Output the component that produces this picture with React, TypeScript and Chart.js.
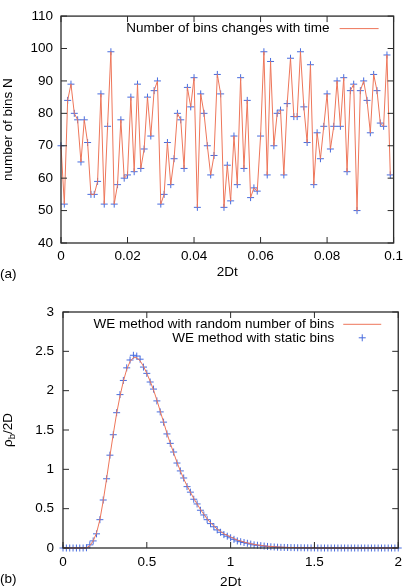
import React, { useEffect, useRef } from "react";
import { Chart, registerables } from "chart.js";

Chart.register(...registerables);

const FONT_FAMILY = '"Liberation Sans", Arial, Helvetica, sans-serif';
const FONT_SIZE = 13.5;
const TEXT_COLOR = "#000";
const LINE_COLOR = "rgb(238, 118, 90)";
const POINT_COLOR = "rgb(72, 108, 222)";
const FRAME_COLOR = "#2b2b2b";

// ---------- panel (a) ----------
const A_TIME_STEP = 0.001;
const A_LABEL = "Number of bins changes with time";
const A_BINS = [
  70, 52, 84, 89, 80, 78, 65, 78, 71, 55,
  55, 59, 86, 52, 76, 99, 52, 58, 78, 60,
  61, 85, 62, 89, 63, 69, 85, 73, 87, 90,
  52, 55, 71, 58, 66, 80, 78, 63, 88, 82,
  91, 51, 86, 80, 70, 61, 67, 92, 86, 51,
  64, 53, 73, 58, 91, 63, 84, 54, 57, 56,
  73, 99, 61, 96, 70, 80, 81, 61, 83, 97,
  79, 79, 99, 82, 71, 95, 58, 74, 66, 76,
  86, 69, 76, 90, 76, 91, 62, 87, 89, 50,
  87, 90, 84, 74, 92, 87, 77, 76, 98, 61,
];
const A_X_MIN = 0, A_X_MAX = 0.1, A_X_STEP = 0.02;
const A_Y_MIN = 40, A_Y_MAX = 110, A_Y_STEP = 10;
const A_X_TITLE = "2Dt";
const A_Y_TITLE = "number of bins N";

// ---------- panel (b) ----------
const B_TIME_STEP = 0.02;
const B_RANDOM_LABEL = "WE method with random number of bins";
const B_STATIC_LABEL = "WE method with static bins";
const B_RANDOM = [
  0, 0, 0, 0, 0, 0, 0, 0.002,
  0.03, 0.09, 0.19, 0.36, 0.60, 0.88, 1.17, 1.45, 1.71, 1.93,
  2.12, 2.27, 2.37, 2.42, 2.42, 2.38, 2.31, 2.22, 2.12, 2.01,
  1.88, 1.74, 1.60, 1.46, 1.33, 1.21, 1.09, 0.98, 0.88, 0.79,
  0.71, 0.63, 0.56, 0.49, 0.43, 0.37, 0.32, 0.28, 0.24, 0.21,
  0.18, 0.16, 0.14, 0.12, 0.10, 0.09, 0.075, 0.065, 0.055, 0.046,
  0.039, 0.033, 0.027, 0.023, 0.019, 0.016, 0.013, 0.011, 0.009, 0.007,
  0.006, 0.005, 0.004, 0.003, 0.003, 0.002, 0.002, 0.001,
  0, 0, 0, 0, 0, 0, 0, 0, 0, 0, 0, 0, 0, 0, 0, 0, 0, 0, 0, 0, 0, 0, 0, 0, 0,
];
const B_STATIC = [
  0, 0, 0, 0, 0, 0, 0, 0.003,
  0.04, 0.09, 0.18, 0.36, 0.61, 0.88, 1.18, 1.44, 1.72, 1.95,
  2.13, 2.29, 2.39, 2.45, 2.44, 2.40, 2.30, 2.22, 2.11, 2.02,
  1.87, 1.73, 1.60, 1.45, 1.33, 1.22, 1.08, 0.98, 0.89, 0.78,
  0.71, 0.62, 0.56, 0.48, 0.42, 0.36, 0.31, 0.27, 0.23, 0.20,
  0.17, 0.15, 0.13, 0.11, 0.09, 0.08, 0.07, 0.06, 0.05, 0.04,
  0.035, 0.03, 0.025, 0.02, 0.016, 0.013, 0.01, 0.008, 0.007, 0.006,
  0.005, 0.004, 0.003, 0.003, 0.002, 0.002, 0.001, 0.001,
  0, 0, 0, 0, 0, 0, 0, 0, 0, 0, 0, 0, 0, 0, 0, 0, 0, 0, 0, 0, 0, 0, 0, 0, 0,
];
const B_X_MIN = 0, B_X_MAX = 2, B_X_STEP = 0.5;
const B_Y_MIN = 0, B_Y_MAX = 3, B_Y_STEP = 0.5;
const B_X_TITLE = "2Dt";

const font = (size = FONT_SIZE) => ({ family: FONT_FAMILY, size });
const fmt = (v: number | string) => String(+Number(v).toFixed(6));

function toPoints(values: number[], step: number) {
  return values.map((v, i) => ({ x: i * step, y: v }));
}

type LegendItem = { datasetIndex: number; kind: "line" | "point" };
type DecorCfg = {
  legend: LegendItem[];
  legendTop: number;
  legendGap: number;
  textRight: number;
  sampleFrom: number;
  sampleTo: number;
  tag: string;
  tagX: number;
  tagY: number;
  yTitleParts?: { text: string; size: number; dy: number }[];
  yTitleX?: number;
};

function decorPlugin(cfg: DecorCfg) {
  return {
    id: "gnuplotDecor",
    afterDraw(chart: any) {
      const { ctx, chartArea: a } = chart;
      const xs = chart.scales.x;
      const ys = chart.scales.y;
      const L = 6;
      ctx.save();
      ctx.strokeStyle = FRAME_COLOR;
      ctx.lineWidth = 1;
      ctx.beginPath();
      xs.ticks.forEach((t: any) => {
        const p = xs.getPixelForValue(t.value);
        ctx.moveTo(p, a.bottom);
        ctx.lineTo(p, a.bottom - L);
        ctx.moveTo(p, a.top);
        ctx.lineTo(p, a.top + L);
      });
      ys.ticks.forEach((t: any) => {
        const p = ys.getPixelForValue(t.value);
        ctx.moveTo(a.left, p);
        ctx.lineTo(a.left + L, p);
        ctx.moveTo(a.right, p);
        ctx.lineTo(a.right - L, p);
      });
      ctx.stroke();
      ctx.lineWidth = 1.3;
      ctx.strokeRect(a.left, a.top, a.right - a.left, a.bottom - a.top);

      // legend
      ctx.font = `${FONT_SIZE}px ${FONT_FAMILY}`;
      ctx.fillStyle = TEXT_COLOR;
      ctx.textAlign = "right";
      ctx.textBaseline = "middle";
      cfg.legend.forEach((item, k) => {
        const ds = chart.data.datasets[item.datasetIndex];
        const y = a.top + cfg.legendTop + k * cfg.legendGap;
        ctx.fillText(ds.label, a.right - cfg.textRight, y);
        ctx.strokeStyle = ds.borderColor;
        ctx.lineWidth = 1;
        ctx.beginPath();
        if (item.kind === "line") {
          ctx.moveTo(a.right - cfg.sampleFrom, y);
          ctx.lineTo(a.right - cfg.sampleTo, y);
        } else {
          const cx = a.right - (cfg.sampleFrom + cfg.sampleTo) / 2;
          ctx.moveTo(cx - 3.5, y);
          ctx.lineTo(cx + 3.5, y);
          ctx.moveTo(cx, y - 3.5);
          ctx.lineTo(cx, y + 3.5);
        }
        ctx.stroke();
      });

      // panel tag
      ctx.textAlign = "left";
      ctx.fillStyle = TEXT_COLOR;
      ctx.fillText(cfg.tag, cfg.tagX, cfg.tagY);

      // custom y title with subscript
      if (cfg.yTitleParts) {
        const parts = cfg.yTitleParts;
        const widths = parts.map((p) => {
          ctx.font = `${p.size}px ${FONT_FAMILY}`;
          return ctx.measureText(p.text).width;
        });
        const total = widths.reduce((s, w) => s + w, 0);
        ctx.translate(cfg.yTitleX ?? 8, (a.top + a.bottom) / 2);
        ctx.rotate(-Math.PI / 2);
        let x = -total / 2;
        parts.forEach((p, i) => {
          ctx.font = `${p.size}px ${FONT_FAMILY}`;
          ctx.fillText(p.text, x, p.dy);
          x += widths[i];
        });
      }
      ctx.restore();
    },
  };
}

type Cfg = {
  datasets: any[];
  xMin: number; xMax: number; xStep: number;
  yMin: number; yMax: number; yStep: number;
  xTitle: string; yTitle?: string;
  padding: { left: number; right: number; top: number; bottom: number };
  yWidth: number; xHeight: number;
  xTickPad: number; yTickPad: number; xTitlePad: number;
  decor: DecorCfg;
};

function makeConfig(c: Cfg): any {
  return {
    type: "line",
    data: { datasets: c.datasets },
    options: {
      animation: false,
      responsive: false,
      devicePixelRatio: 1,
      layout: { padding: c.padding },
      plugins: { legend: { display: false }, tooltip: { enabled: false } },
      scales: {
        x: {
          type: "linear",
          min: c.xMin,
          max: c.xMax,
          ticks: { stepSize: c.xStep, padding: c.xTickPad, font: font(), color: TEXT_COLOR, maxRotation: 0, autoSkip: false, callback: fmt },
          grid: { display: false, drawTicks: false },
          border: { display: false },
          title: { display: true, text: c.xTitle, font: font(), color: TEXT_COLOR, padding: { top: 0, bottom: c.xTitlePad } },
          afterFit: (s: any) => { s.height = c.xHeight; },
        },
        y: {
          type: "linear",
          min: c.yMin,
          max: c.yMax,
          ticks: { stepSize: c.yStep, padding: c.yTickPad, font: font(), color: TEXT_COLOR, callback: fmt },
          grid: { display: false, drawTicks: false },
          border: { display: false },
          title: { display: !!c.yTitle, text: c.yTitle || "", font: font(), color: TEXT_COLOR, padding: { top: 0, bottom: 0 } },
          afterFit: (s: any) => { s.width = c.yWidth; },
        },
      },
    },
    plugins: [decorPlugin(c.decor)],
  };
}

export default function App() {
  const topRef = useRef<HTMLCanvasElement | null>(null);
  const botRef = useRef<HTMLCanvasElement | null>(null);

  useEffect(() => {
    const aPts = toPoints(A_BINS, A_TIME_STEP);
    const top = new Chart(topRef.current as HTMLCanvasElement, makeConfig({
      datasets: [
        { label: A_LABEL, data: aPts, borderColor: LINE_COLOR, borderWidth: 1, pointRadius: 0, fill: false, tension: 0, clip: false },
        { label: "", data: aPts, showLine: false, pointStyle: "cross", pointRadius: 3.5, borderColor: POINT_COLOR, pointBorderColor: POINT_COLOR, pointBorderWidth: 1, clip: false },
      ],
      xMin: A_X_MIN, xMax: A_X_MAX, xStep: A_X_STEP,
      yMin: A_Y_MIN, yMax: A_Y_MAX, yStep: A_Y_STEP,
      xTitle: A_X_TITLE, yTitle: A_Y_TITLE,
      padding: { left: 0, right: 11, top: 7, bottom: 0 },
      yWidth: 61, xHeight: 51,
      xTickPad: 5, yTickPad: 8, xTitlePad: 14,
      decor: {
        legend: [{ datasetIndex: 0, kind: "line" }],
        legendTop: 12.5, legendGap: 13.5,
        textRight: 64, sampleFrom: 54, sampleTo: 15,
        tag: "(a)", tagX: 0, tagY: 274,
      },
    }));

    const bot = new Chart(botRef.current as HTMLCanvasElement, makeConfig({
      datasets: [
        { label: B_RANDOM_LABEL, data: toPoints(B_RANDOM, B_TIME_STEP), borderColor: LINE_COLOR, borderWidth: 1, pointRadius: 0, fill: false, tension: 0, clip: false },
        { label: B_STATIC_LABEL, data: toPoints(B_STATIC, B_TIME_STEP), showLine: false, pointStyle: "cross", pointRadius: 3.5, borderColor: POINT_COLOR, pointBorderColor: POINT_COLOR, pointBorderWidth: 1, clip: false },
      ],
      xMin: B_X_MIN, xMax: B_X_MAX, xStep: B_X_STEP,
      yMin: B_Y_MIN, yMax: B_Y_MAX, yStep: B_Y_STEP,
      xTitle: B_X_TITLE,
      padding: { left: 0, right: 7, top: 18, bottom: 0 },
      yWidth: 63, xHeight: 42,
      xTickPad: 6, yTickPad: 9, xTitlePad: 0,
      decor: {
        legend: [{ datasetIndex: 0, kind: "line" }, { datasetIndex: 1, kind: "point" }],
        legendTop: 12.3, legendGap: 13.5,
        textRight: 64, sampleFrom: 55, sampleTo: 17,
        tag: "(b)", tagX: 0, tagY: 285,
        yTitleParts: [
          { text: "ρ", size: FONT_SIZE, dy: 0 },
          { text: "b", size: 9.5, dy: 3.5 },
          { text: "/2D", size: FONT_SIZE, dy: 0 },
        ],
        yTitleX: 8.5,
      },
    }));

    return () => {
      top.destroy();
      bot.destroy();
    };
  }, []);

  return (
    <div style={{ position: "fixed", left: 0, top: 0, width: 408, height: 588, overflow: "hidden", background: "#fff" }}>
      <div style={{ position: "absolute", left: 0, top: 0, width: 408, height: 294 }}>
        <canvas ref={topRef} width={408} height={294} style={{ display: "block" }} />
      </div>
      <div style={{ position: "absolute", left: 0, top: 294, width: 408, height: 296 }}>
        <canvas ref={botRef} width={408} height={296} style={{ display: "block" }} />
      </div>
    </div>
  );
}
